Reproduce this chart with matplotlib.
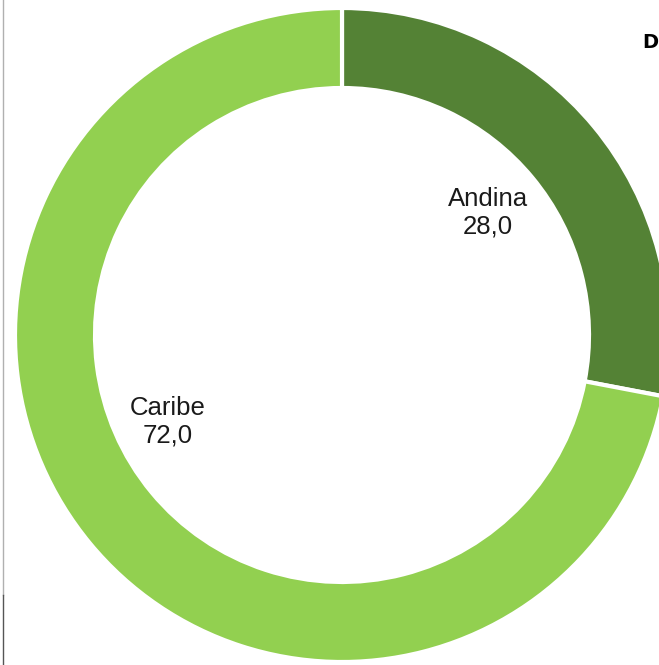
import matplotlib
matplotlib.use("Agg")
import matplotlib.pyplot as plt

regions = ["Andina", "Caribe"]
shares = [28.0, 72.0]
colors = ["#548235", "#92D050"]
title_text = "D"

W, H = 659, 665
fig = plt.figure(figsize=(W / 100, H / 100), dpi=100)
ax = fig.add_axes([0, 0, 1, 1])

cx, cy = 342, H - 335
outer = 327
width = 80

ax.pie(
    shares, colors=colors, startangle=90, counterclock=False,
    center=(cx, cy), radius=outer, frame=True,
    wedgeprops=dict(width=width, edgecolor="white", linewidth=3),
)
ax.set_xlim(0, W)
ax.set_ylim(0, H)
ax.set_aspect("equal")
ax.axis("off")

font = ["Liberation Sans", "DejaVu Sans"]
label_pos = [(488, H - 213), (168, H - 422)]
for name, val, (x, y) in zip(regions, shares, label_pos):
    ax.text(x, y, f"{name}\n{val:.1f}".replace(".", ","), ha="center", va="center",
            fontsize=18.5, family=font, color="#1a1a1a", linespacing=1.2)

ax.text(642, H - 43, title_text, ha="left", va="center", fontsize=14,
        fontweight="bold", family=["DejaVu Sans"], color="black")

# frame line at the left edge
ax.plot([3, 3], [H - 595, H], color="#b0b0b0", lw=1)
ax.plot([3, 3], [0, H - 595], color="#555555", lw=1)

fig.savefig("out.png", dpi=100)
